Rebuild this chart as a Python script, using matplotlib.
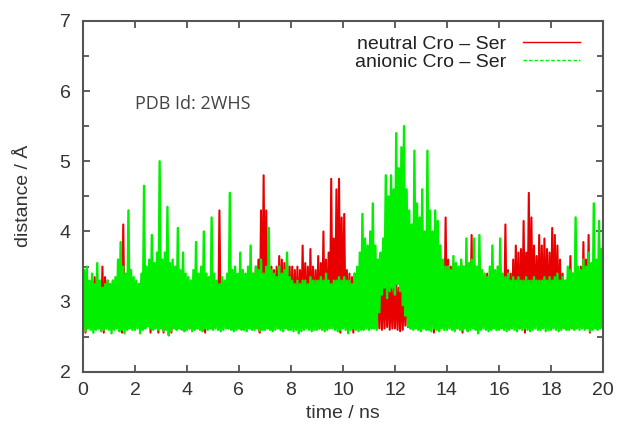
import numpy as np
import matplotlib.pyplot as plt
from matplotlib.lines import Line2D
from matplotlib.ticker import MultipleLocator

# trajectory summarised in 0.1 ns windows: lowest and highest distance in each window
bin_width = 0.1
bin_start = np.arange(200) * bin_width

neutral_lo = [
    2.64, 2.56, 2.66, 2.62, 2.64, 2.68, 2.62, 2.64, 2.56, 2.62,
    2.64, 2.62, 2.66, 2.64, 2.62, 2.56, 2.64, 2.62, 2.66, 2.64,
    2.62, 2.66, 2.64, 2.68, 2.66, 2.70, 2.56, 2.66, 2.70, 2.56,
    2.66, 2.56, 2.68, 2.66, 2.56, 2.64, 2.66, 2.64, 2.62, 2.66,
    2.64, 2.62, 2.66, 2.64, 2.62, 2.64, 2.66, 2.56, 2.64, 2.62,
    2.64, 2.66, 2.62, 2.64, 2.66, 2.64, 2.62, 2.66, 2.64, 2.62,
    2.66, 2.64, 2.62, 2.64, 2.66, 2.64, 2.62, 2.66, 2.56, 2.62,
    2.64, 2.66, 2.62, 2.64, 2.66, 2.64, 2.62, 2.64, 2.66, 2.64,
    2.62, 2.64, 2.66, 2.62, 2.64, 2.66, 2.64, 2.62, 2.64, 2.66,
    2.64, 2.62, 2.66, 2.64, 2.62, 2.64, 2.66, 2.64, 2.62, 2.56,
    2.66, 2.64, 2.62, 2.64, 2.56, 2.64, 2.62, 2.64, 2.66, 2.64,
    2.62, 2.64, 2.66, 2.64, 2.62, 2.60, 2.62, 2.64, 2.60, 2.62,
    2.62, 2.60, 2.58, 2.60, 2.66, 2.64, 2.62, 2.66, 2.64, 2.62,
    2.64, 2.66, 2.62, 2.64, 2.66, 2.56, 2.62, 2.64, 2.66, 2.64,
    2.62, 2.64, 2.66, 2.64, 2.62, 2.64, 2.56, 2.64, 2.62, 2.64,
    2.66, 2.64, 2.62, 2.64, 2.66, 2.64, 2.62, 2.64, 2.66, 2.64,
    2.62, 2.64, 2.66, 2.64, 2.62, 2.64, 2.66, 2.64, 2.62, 2.64,
    2.56, 2.64, 2.62, 2.64, 2.66, 2.64, 2.62, 2.64, 2.66, 2.64,
    2.62, 2.64, 2.66, 2.64, 2.62, 2.64, 2.66, 2.64, 2.62, 2.64,
    2.66, 2.64, 2.62, 2.64, 2.66, 2.56, 2.62, 2.64, 2.66, 2.64,
]
neutral_hi = [
    3.30, 3.25, 3.20, 3.30, 3.35, 3.30, 3.20, 3.50, 3.35, 3.30,
    3.25, 3.30, 3.20, 3.35, 3.30, 4.10, 3.30, 3.25, 3.20, 3.25,
    3.20, 3.25, 3.30, 3.20, 3.25, 3.30, 3.20, 3.25, 3.30, 3.25,
    3.30, 3.25, 3.20, 3.30, 3.25, 3.20, 3.30, 3.25, 3.30, 3.20,
    3.20, 3.30, 3.25, 3.30, 3.20, 3.25, 3.30, 3.35, 3.30, 3.35,
    3.30, 3.25, 4.30, 3.30, 3.25, 3.30, 3.35, 3.30, 3.30, 3.25,
    3.30, 3.35, 3.30, 3.40, 3.45, 3.40, 3.50, 3.60, 4.30, 4.80,
    4.30, 3.60, 3.50, 3.45, 3.50, 3.65, 3.60, 3.55, 3.60, 3.50,
    3.50, 3.45, 3.50, 3.45, 3.80, 3.55, 3.50, 3.75, 3.50, 3.45,
    3.65, 3.55, 4.00, 3.60, 3.70, 4.75, 3.90, 4.60, 4.75, 4.20,
    4.25, 3.45, 3.40, 3.35, 3.40, 3.30, 3.30, 3.35, 3.30, 3.30,
    3.35, 3.30, 3.30, 3.25, 3.30, 3.30, 3.35, 3.30, 3.20, 3.25,
    3.30, 3.20, 3.30, 3.25, 3.35, 3.50, 3.40, 3.35, 3.30, 3.35,
    3.40, 3.30, 3.45, 3.35, 3.50, 3.40, 3.60, 3.50, 3.45, 4.20,
    3.60, 3.50, 3.55, 3.50, 3.45, 3.55, 3.50, 3.55, 3.50, 3.95,
    3.50, 3.40, 3.45, 3.30, 3.35, 3.40, 3.30, 3.35, 3.40, 3.30,
    3.40, 3.35, 4.10, 3.45, 3.40, 3.60, 3.80, 3.70, 3.75, 4.15,
    3.70, 4.55, 4.20, 3.80, 3.65, 3.95, 3.80, 3.90, 3.75, 3.70,
    4.05, 3.95, 3.80, 3.60, 3.40, 3.30, 3.35, 3.65, 3.40, 3.35,
    3.40, 3.50, 3.85, 3.60, 3.95, 3.50, 3.45, 3.40, 3.50, 3.35,
]

anionic_lo = [
    2.60, 2.58, 2.62, 2.60, 2.56, 2.60, 2.62, 2.58, 2.60, 2.62,
    2.60, 2.55, 2.60, 2.62, 2.58, 2.60, 2.55, 2.60, 2.62, 2.60,
    2.60, 2.62, 2.55, 2.60, 2.62, 2.65, 2.62, 2.60, 2.62, 2.60,
    2.62, 2.58, 2.60, 2.52, 2.58, 2.62, 2.60, 2.62, 2.60, 2.58,
    2.60, 2.62, 2.58, 2.60, 2.62, 2.60, 2.58, 2.62, 2.60, 2.62,
    2.60, 2.62, 2.60, 2.58, 2.60, 2.62, 2.62, 2.60, 2.58, 2.60,
    2.62, 2.60, 2.60, 2.58, 2.62, 2.60, 2.60, 2.62, 2.58, 2.60,
    2.60, 2.62, 2.60, 2.58, 2.60, 2.62, 2.60, 2.58, 2.62, 2.60,
    2.60, 2.58, 2.60, 2.55, 2.58, 2.60, 2.62, 2.60, 2.58, 2.60,
    2.60, 2.62, 2.60, 2.58, 2.60, 2.62, 2.62, 2.60, 2.58, 2.60,
    2.62, 2.60, 2.55, 2.60, 2.62, 2.60, 2.58, 2.60, 2.60, 2.62,
    2.60, 2.62, 2.62, 2.60, 2.85, 3.10, 3.20, 3.05, 3.15, 3.20,
    3.10, 3.25, 3.15, 2.95, 2.80, 2.65, 2.62, 2.60, 2.62, 2.60,
    2.58, 2.62, 2.60, 2.60, 2.58, 2.62, 2.60, 2.58, 2.62, 2.60,
    2.60, 2.62, 2.60, 2.58, 2.62, 2.60, 2.60, 2.62, 2.58, 2.60,
    2.62, 2.60, 2.55, 2.60, 2.62, 2.60, 2.58, 2.60, 2.62, 2.60,
    2.60, 2.62, 2.60, 2.58, 2.60, 2.62, 2.60, 2.58, 2.62, 2.60,
    2.62, 2.60, 2.58, 2.60, 2.62, 2.60, 2.60, 2.62, 2.58, 2.60,
    2.60, 2.62, 2.60, 2.58, 2.60, 2.62, 2.60, 2.60, 2.62, 2.60,
    2.62, 2.60, 2.62, 2.60, 2.62, 2.58, 2.60, 2.62, 2.60, 2.62,
]
anionic_hi = [
    3.45, 3.50, 3.30, 3.40, 3.25, 3.55, 3.30, 3.20, 3.25, 3.30,
    3.25, 3.30, 3.35, 3.60, 3.85, 3.50, 3.40, 4.30, 3.45, 3.35,
    3.30, 3.25, 3.40, 4.65, 3.50, 3.60, 3.95, 3.55, 3.70, 5.00,
    3.60, 3.70, 4.35, 3.55, 3.60, 3.50, 4.05, 3.45, 3.70, 3.40,
    3.35, 3.30, 3.45, 3.85, 3.40, 3.50, 4.00, 3.40, 3.35, 4.20,
    3.40, 3.30, 3.25, 3.35, 3.30, 3.40, 4.55, 3.45, 3.50, 3.40,
    3.70, 3.45, 3.40, 3.50, 3.80, 3.40, 3.50, 3.45, 3.60, 3.40,
    3.50, 4.05, 3.45, 3.40, 3.35, 3.50, 3.40, 3.45, 3.70, 3.35,
    3.30, 3.25, 3.30, 3.25, 3.30, 3.30, 3.25, 3.35, 3.30, 3.30,
    3.30, 3.35, 3.30, 3.40, 3.30, 3.25, 3.30, 3.30, 3.35, 3.30,
    3.35, 3.30, 3.30, 3.25, 3.40, 3.50, 3.70, 4.25, 3.90, 3.80,
    4.00, 4.40, 3.80, 3.60, 3.70, 3.90, 4.80, 4.50, 4.80, 4.60,
    5.40, 4.90, 5.20, 5.50, 4.60, 4.30, 4.10, 5.15, 4.40, 4.20,
    4.60, 4.00, 5.15, 4.30, 4.00, 4.30, 4.15, 3.80, 3.60, 3.50,
    3.50, 3.45, 3.65, 3.55, 3.50, 3.60, 3.50, 3.90, 3.55, 3.60,
    3.90, 3.50, 3.95, 3.45, 3.40, 3.35, 3.50, 3.80, 3.45, 3.50,
    3.90, 3.40, 3.35, 3.40, 3.30, 3.35, 3.30, 3.35, 3.30, 3.30,
    3.35, 3.30, 3.30, 3.35, 3.30, 3.30, 3.30, 3.35, 3.30, 3.35,
    3.30, 3.35, 3.40, 3.30, 3.35, 3.30, 3.50, 3.45, 3.40, 4.20,
    3.50, 3.45, 3.60, 3.50, 3.70, 3.55, 4.40, 3.60, 4.15, 3.75,
]

# each window drawn as low -> high so the trace keeps its jagged look
t = np.column_stack([bin_start, bin_start + bin_width / 2]).ravel()
neutral = np.column_stack([neutral_lo, neutral_hi]).ravel()
anionic = np.column_stack([anionic_lo, anionic_hi]).ravel()

plt.rcParams["font.family"] = ["Liberation Sans", "DejaVu Sans"]
plt.rcParams["font.size"] = 14

fig = plt.figure(figsize=(6.19, 4.33), dpi=100)
ax = fig.add_axes([0.134, 0.141, 0.840, 0.811])

red = "#e80000"
green = "#00f000"
ax.plot(t, neutral, color=red, lw=1.5)
ax.plot(t, anionic, color=green, lw=1.7)

ax.set_xlim(0, 20)
ax.set_ylim(2, 7)
ax.xaxis.set_major_locator(MultipleLocator(2))
ax.yaxis.set_major_locator(MultipleLocator(1))
ax.yaxis.set_minor_locator(MultipleLocator(0.5))
ax.tick_params(which="both", direction="in", top=True, right=True,
               color="#444444", labelcolor="#333333", width=1.2)
ax.tick_params(which="major", length=5)
ax.tick_params(which="minor", length=4)
ax.tick_params(axis="x", pad=7)
ax.tick_params(axis="y", pad=9)
for s in ax.spines.values():
    s.set_color("#555555")
    s.set_linewidth(1.5)

ax.set_xlabel("time / ns", color="#333333")
ax.set_ylabel("distance / Å", color="#333333")
ax.xaxis.set_label_coords(0.5, -0.094)
ax.yaxis.set_label_coords(-0.098, 0.5)

ax.text(2.0, 5.82, "PDB Id: 2WHS", family="Open Sans", fontsize=13,
        color="#444444", va="center")

handles = [Line2D([], [], color=red, lw=1.0),
           Line2D([], [], color=green, lw=1.0, dashes=(2.5, 1.5))]
ax.legend(handles, ["neutral Cro – Ser", "anionic Cro – Ser"],
          loc="upper right", bbox_to_anchor=(0.956, 0.958), borderaxespad=0,
          borderpad=0, frameon=False, markerfirst=False, handlelength=2.95,
          handletextpad=0.85, labelspacing=0.0, labelcolor="#222222")

fig.savefig("out.png", dpi=100)
